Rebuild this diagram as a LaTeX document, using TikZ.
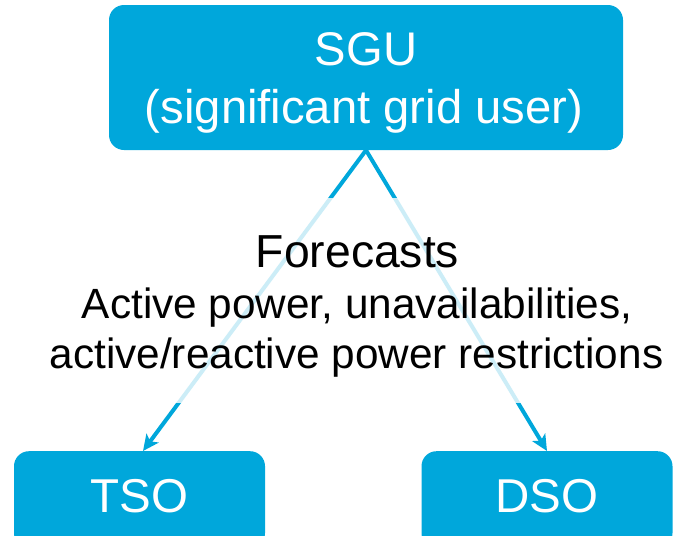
\documentclass[tikz,border=0pt]{standalone}
\usepackage{fontspec}
\setmainfont{Liberation Sans}
\usetikzlibrary{arrows.meta}
\definecolor{gridblue}{RGB}{0,167,219}
\begin{document}
\begin{tikzpicture}[x=1pt,y=-1pt,
  box/.style={fill=gridblue, rounded corners=15pt, inner sep=0pt},
  boxtext/.style={text=white, font=\fontsize{47.2}{56}\selectfont, inner sep=0pt},
  smallbox/.style={box, minimum width=251pt, anchor=north, inner ysep=26pt,
    text height=35pt, text depth=10pt, text=white, font=\fontsize{47.5}{56}\selectfont},
  veil/.style={fill=white, fill opacity=0.8, inner sep=0pt},
  headline/.style={font=\fontsize{46.3}{50}\selectfont, inner sep=0pt},
  detail/.style={font=\fontsize{42.3}{50}\selectfont, inner sep=0pt},
  flow/.style={draw=gridblue, line width=4pt, -{Stealth[length=16pt,width=15pt,inset=4pt]}}]
\useasboundingbox (0,0) rectangle (673,536);

% top box with its two lines
\node[box, minimum width=514pt, minimum height=145pt] (sgu) at (366,77.5) {};
\node[boxtext, anchor=base] (sgutitle) at (366,65) {SGU};
\node[boxtext, anchor=base] (sgusub) at (364,123) {(significant grid user)};

% receiving boxes (cut off at the lower edge)
\node[smallbox] (tso) at (139.5,451) {TSO};
\node[smallbox] (dso) at (547,451) {DSO};

% information flows
\draw[flow] (sgu.south) -- ([xshift=3.5pt]tso.north);
\draw[flow] (sgu.south) -- (dso.north);

% translucent backing behind the label
\node[veil, minimum width=620pt, minimum height=205pt] (backing) at (357,300.5) {};
\node[headline, anchor=base] (fc) at (357.5,267) {Forecasts};
\node[detail, anchor=base] (fcline1) at (357,318) {Active power, unavailabilities,};
\node[detail, anchor=base] (fcline2) at (356.5,368) {active/reactive power restrictions};
\end{tikzpicture}
\end{document}
